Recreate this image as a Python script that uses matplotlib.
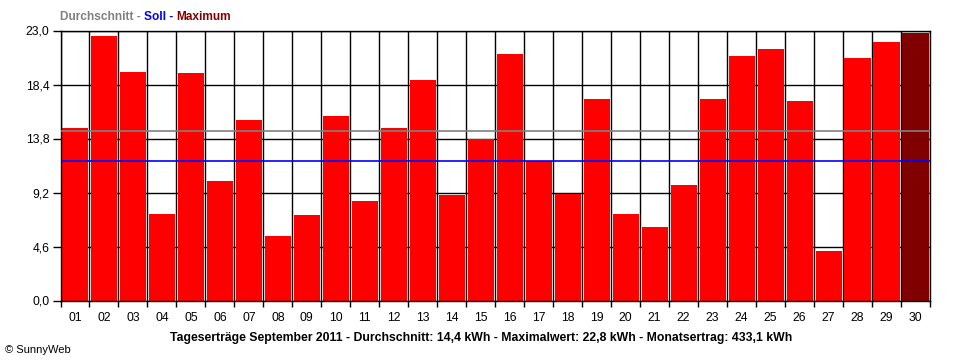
#!/usr/bin/env python3

# Import special modules ...
import matplotlib
matplotlib.use("Agg")
import matplotlib.pyplot
import numpy

# ******************************************************************************

# Configure matplotlib ...
matplotlib.pyplot.rcParams.update({"font.size" : 8, "font.family" : ["Liberation Sans", "DejaVu Sans"]})

# Define data ...
days = ["{:02d}".format(d) for d in range(1, 31)]
yields = [
    14.7, 22.5, 19.5,  7.4, 19.4, 10.2, 15.4,  5.5,  7.3, 15.7,
     8.5, 14.7, 18.8,  9.0, 13.8, 21.0, 11.9,  9.1, 17.2,  7.4,
     6.3,  9.8, 17.2, 20.8, 21.4, 17.0,  4.2, 20.7, 22.0, 22.8,
]
average = 14.4
target = 11.9
yticks = [0.0, 4.6, 9.2, 13.8, 18.4, 23.0]
total = 433.1

# ******************************************************************************

# Create plot ...
fg = matplotlib.pyplot.figure(figsize = (9.6, 3.6), dpi = 100)
ax = fg.add_axes([60.5 / 960.0, 1.0 - 300.5 / 360.0, 869.5 / 960.0, 270.0 / 360.0])

# Add bars ...
x = numpy.arange(len(days))
imax = int(numpy.argmax(yields))
colours = ["#FF0000"] * len(days)
colours[imax] = "#800000"
ax.bar(x, yields, width = 0.9, color = colours, zorder = 2)

# Add average and target lines ...
ax.axhline(average, color = "#808080", linewidth = 1.2, zorder = 3)
ax.axhline(target, color = "#0000FF", linewidth = 1.2, zorder = 3)

# Configure axes ...
ax.set_xlim(-0.5, len(days) - 0.5)
ax.set_ylim(0.0, 23.0)
ax.set_yticks(yticks)
ax.set_yticklabels(["{:.1f}".format(v).replace(".", ",") for v in yticks])
ax.set_xticks(numpy.arange(len(days) + 1) - 0.5)
ax.set_xticklabels([])
ax.set_xticks(x, minor = True)
ax.set_xticklabels(days, minor = True)
ax.tick_params(axis = "x", which = "major", direction = "out", length = 4, width = 1.0, color = "black")
ax.tick_params(axis = "x", which = "minor", length = 0, pad = 8, labelsize = 8.7)
ax.tick_params(axis = "y", direction = "out", length = 6, width = 1.0, pad = 2, labelsize = 8.7)
ax.grid(True, which = "major", color = "black", linewidth = 1.0, zorder = 1)
ax.set_axisbelow(True)
for side in ["top", "right", "bottom", "left"]:
    ax.spines[side].set_linewidth(1.0)
    ax.spines[side].set_color("black")

# Add legend title in three colours ...
rd = fg.canvas.get_renderer()
xpos = 60.0
for txt, col in [("Durchschnitt - ", "#808080"), ("Soll - ", "#0000FF"), ("Maximum", "#800000")]:
    t = fg.text(xpos / 960.0, 1.0 - 17.0 / 360.0, txt, color = col, fontweight = "bold", fontsize = 8.6, va = "center", ha = "left")
    bb = t.get_window_extent(renderer = rd)
    xpos += bb.width

# Add bottom caption ...
caption = "Tageserträge September 2011 - Durchschnitt: {:s} kWh - Maximalwert: {:s} kWh - Monatsertrag: {:s} kWh".format(
    "{:.1f}".format(average).replace(".", ","),
    "{:.1f}".format(yields[imax]).replace(".", ","),
    "{:.1f}".format(total).replace(".", ","),
)
fg.text(481.0 / 960.0, 1.0 - 337.5 / 360.0, caption, fontweight = "bold", fontsize = 8.8, ha = "center", va = "center")
fg.text(5.0 / 960.0, 1.0 - 350.0 / 360.0, "© SunnyWeb", fontsize = 8, ha = "left", va = "center")

# Save plot ...
fg.savefig("out.png", dpi = 100)
matplotlib.pyplot.close(fg)
